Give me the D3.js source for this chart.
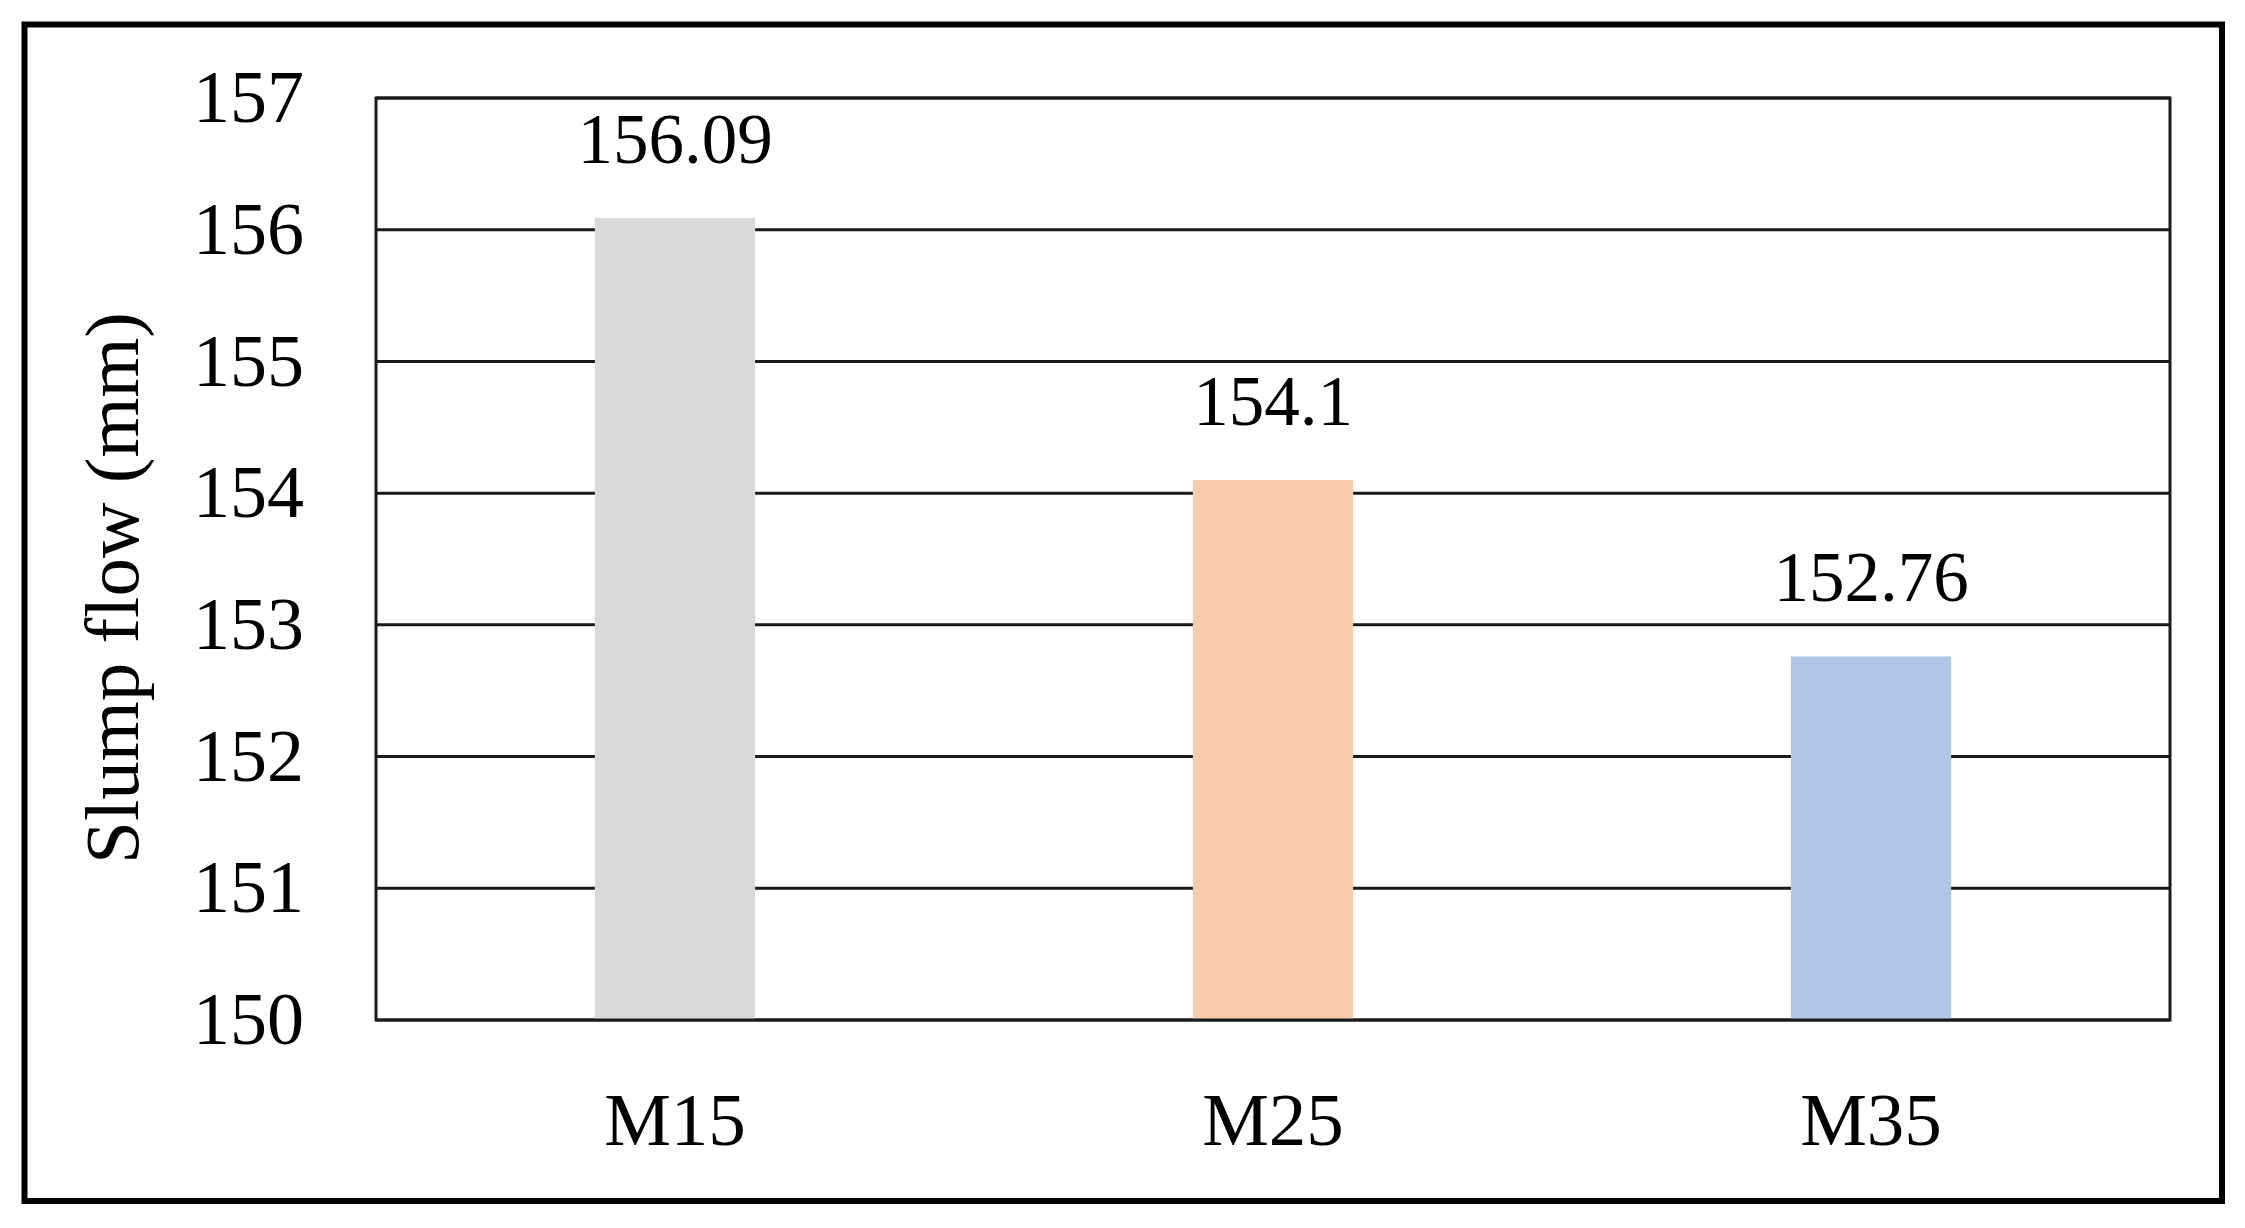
<!DOCTYPE html>
<html>
<head>
<meta charset="utf-8">
<script src="https://cdn.jsdelivr.net/npm/d3@7"></script>
<style>
  body { margin: 0; background: #fff; }
  text { font-family: "Liberation Serif", "DejaVu Serif", serif; fill: #000; }
</style>
</head>
<body>
<div id="chart"></div>
<script>
// data
const categories = ["M15", "M25", "M35"];
const slumpFlow = [156.09, 154.1, 152.76];
const barColors = ["#d9d9d9", "#f9cbab", "#aec7e8"];
const yTicks = [150, 151, 152, 153, 154, 155, 156, 157];

const width = 2245, height = 1228;
const margin = {top: 98, right: 75, bottom: 208, left: 376};

const svg = d3.select("#chart").append("svg")
  .attr("width", width)
  .attr("height", height);

// outer black frame of the figure
svg.append("rect")
  .attr("x", 24.5).attr("y", 24.5)
  .attr("width", 2197.5).attr("height", 1176.5)
  .attr("fill", "none")
  .attr("stroke", "#000")
  .attr("stroke-width", 6);

let y = d3.scaleLinear()
  .domain([150, 157])
  .range([height - margin.bottom, margin.top]);

let x = d3.scaleBand()
  .domain(categories)
  .range([margin.left, width - margin.right])
  .padding(0);

let barW = x.bandwidth() * 0.268;

// gridlines
svg.append("g").selectAll("line")
  .data(yTicks)
  .enter().append("line")
    .attr("x1", margin.left)
    .attr("x2", width - margin.right)
    .attr("y1", d => y(d))
    .attr("y2", d => y(d))
    .attr("stroke", "#1a1a1a")
    .attr("stroke-width", 3);

// bars
svg.append("g").selectAll("rect")
  .data(categories)
  .enter().append("rect")
    .attr("x", d => x(d) + (x.bandwidth() - barW) / 2)
    .attr("width", barW)
    .attr("y", (d, i) => y(slumpFlow[i]))
    .attr("height", (d, i) => y(150) - y(slumpFlow[i]))
    .attr("fill", (d, i) => barColors[i]);

// plot frame
svg.append("rect")
  .attr("x", margin.left)
  .attr("y", margin.top)
  .attr("width", width - margin.right - margin.left)
  .attr("height", height - margin.bottom - margin.top)
  .attr("fill", "none")
  .attr("stroke", "#1a1a1a")
  .attr("stroke-width", 3);

// value labels
svg.append("g").selectAll("text")
  .data(categories)
  .enter().append("text")
    .attr("x", d => x(d) + x.bandwidth() / 2)
    .attr("y", (d, i) => y(slumpFlow[i]) - 55)
    .attr("text-anchor", "middle")
    .attr("font-size", 71)
    .text((d, i) => slumpFlow[i]);

// y axis
let yAxis = svg.append("g")
  .attr("transform", `translate(${margin.left},0)`)
  .call(d3.axisLeft(y).tickValues(yTicks).tickFormat(d3.format("d")).tickSize(0).tickPadding(72));
yAxis.select(".domain").remove();
yAxis.selectAll("text")
  .attr("font-family", "Liberation Serif")
  .attr("font-size", 74)
  .attr("fill", "#000");

// x axis
let xAxis = svg.append("g")
  .attr("transform", `translate(0,${height - margin.bottom})`)
  .call(d3.axisBottom(x).tickSize(0));
xAxis.select(".domain").remove();
xAxis.selectAll("text")
  .attr("font-family", "Liberation Serif")
  .attr("font-size", 75)
  .attr("fill", "#000")
  .attr("y", 125)
  .attr("dy", 0);

// y title
svg.append("text")
  .attr("transform", "translate(138,588) rotate(-90)")
  .attr("text-anchor", "middle")
  .attr("font-size", 77)
  .text("Slump flow (mm)");
</script>
</body>
</html>
